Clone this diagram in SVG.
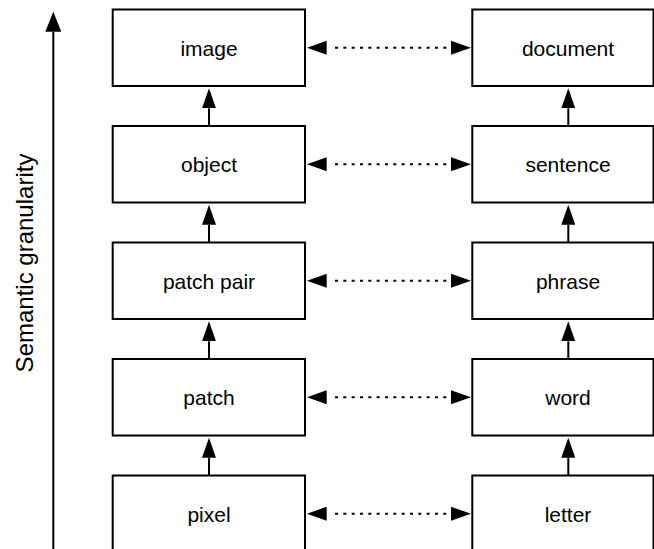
<svg xmlns="http://www.w3.org/2000/svg" width="654" height="549" viewBox="0 0 654 549">
<style>
.box{fill:#fff;stroke:#000;stroke-width:2}
.lbl{font-family:"Liberation Sans",Arial,Helvetica,sans-serif;font-size:21px;fill:#000;text-anchor:middle}
.axl{font-family:"Liberation Sans",Arial,Helvetica,sans-serif;font-size:24px;fill:#000;text-anchor:middle}
.up{stroke:#000;stroke-width:2;fill:none;marker-end:url(#ah)}
.dash{stroke:#000;stroke-width:2;fill:none;marker-start:url(#ah);marker-end:url(#ah);stroke-dasharray:0 8.3 3 5.33 3 5.33 3 5.33 3 5.33 3 5.33 3 5.33 3 5.33 3 5.33 3 5.33 3 5.33 3 5.33 3 5.33 3 5.33 3 100}
</style>
<defs>
<marker id="ah" viewBox="0 -7 20 14" refX="0" refY="0" markerWidth="20" markerHeight="14" markerUnits="userSpaceOnUse" orient="auto-start-reverse"><path d="M0,-7 L20,0 L0,7 Z" fill="#000"/></marker>
<marker id="ax" viewBox="0 -8 20 16" refX="0" refY="0" markerWidth="20" markerHeight="16" markerUnits="userSpaceOnUse" orient="auto"><path d="M0,-8 L20,0 L0,8 Z" fill="#000"/></marker>
</defs>
<g id="axis">
<line x1="53.3" y1="549" x2="53.3" y2="31.7" stroke="#000" stroke-width="2" marker-end="url(#ax)"/>
<text class="axl" transform="translate(32.5,263) rotate(-90)">Semantic granularity</text>
</g>
<g id="image"><rect class="box" x="112.7" y="9.5" width="192.3" height="76.5"/><text class="lbl" x="209" y="55.5">image</text></g>
<g id="object"><rect class="box" x="112.7" y="126" width="192.3" height="76.5"/><text class="lbl" x="209" y="172">object</text></g>
<g id="patch-pair"><rect class="box" x="112.7" y="242.5" width="192.3" height="76.5"/><text class="lbl" x="209" y="288.5">patch pair</text></g>
<g id="patch"><rect class="box" x="112.7" y="359" width="192.3" height="76.5"/><text class="lbl" x="209" y="405">patch</text></g>
<g id="pixel"><rect class="box" x="112.7" y="475.5" width="192.3" height="76.5"/><text class="lbl" x="209" y="521.5">pixel</text></g>
<g id="document"><rect class="box" x="472.3" y="9.5" width="181.2" height="76.5"/><text class="lbl" x="568" y="55.5">document</text></g>
<g id="sentence"><rect class="box" x="472.3" y="126" width="181.2" height="76.5"/><text class="lbl" x="568" y="172">sentence</text></g>
<g id="phrase"><rect class="box" x="472.3" y="242.5" width="181.2" height="76.5"/><text class="lbl" x="568" y="288.5">phrase</text></g>
<g id="word"><rect class="box" x="472.3" y="359" width="181.2" height="76.5"/><text class="lbl" x="568" y="405">word</text></g>
<g id="letter"><rect class="box" x="472.3" y="475.5" width="181.2" height="76.5"/><text class="lbl" x="568" y="521.5">letter</text></g>
<g id="connectors">
<path class="up" d="M209,126 V108.3"/>
<path class="up" d="M209,242.5 V224.8"/>
<path class="up" d="M209,359 V341.3"/>
<path class="up" d="M209,475.5 V457.8"/>
<path class="up" d="M568.3,126 V108.3"/>
<path class="up" d="M568.3,242.5 V224.8"/>
<path class="up" d="M568.3,359 V341.3"/>
<path class="up" d="M568.3,475.5 V457.8"/>
<path class="dash" d="M326.7,47.75 H451"/>
<path class="dash" d="M326.7,164.25 H451"/>
<path class="dash" d="M326.7,280.75 H451"/>
<path class="dash" d="M326.7,397.25 H451"/>
<path class="dash" d="M326.7,513.75 H451"/>
</g>
</svg>
